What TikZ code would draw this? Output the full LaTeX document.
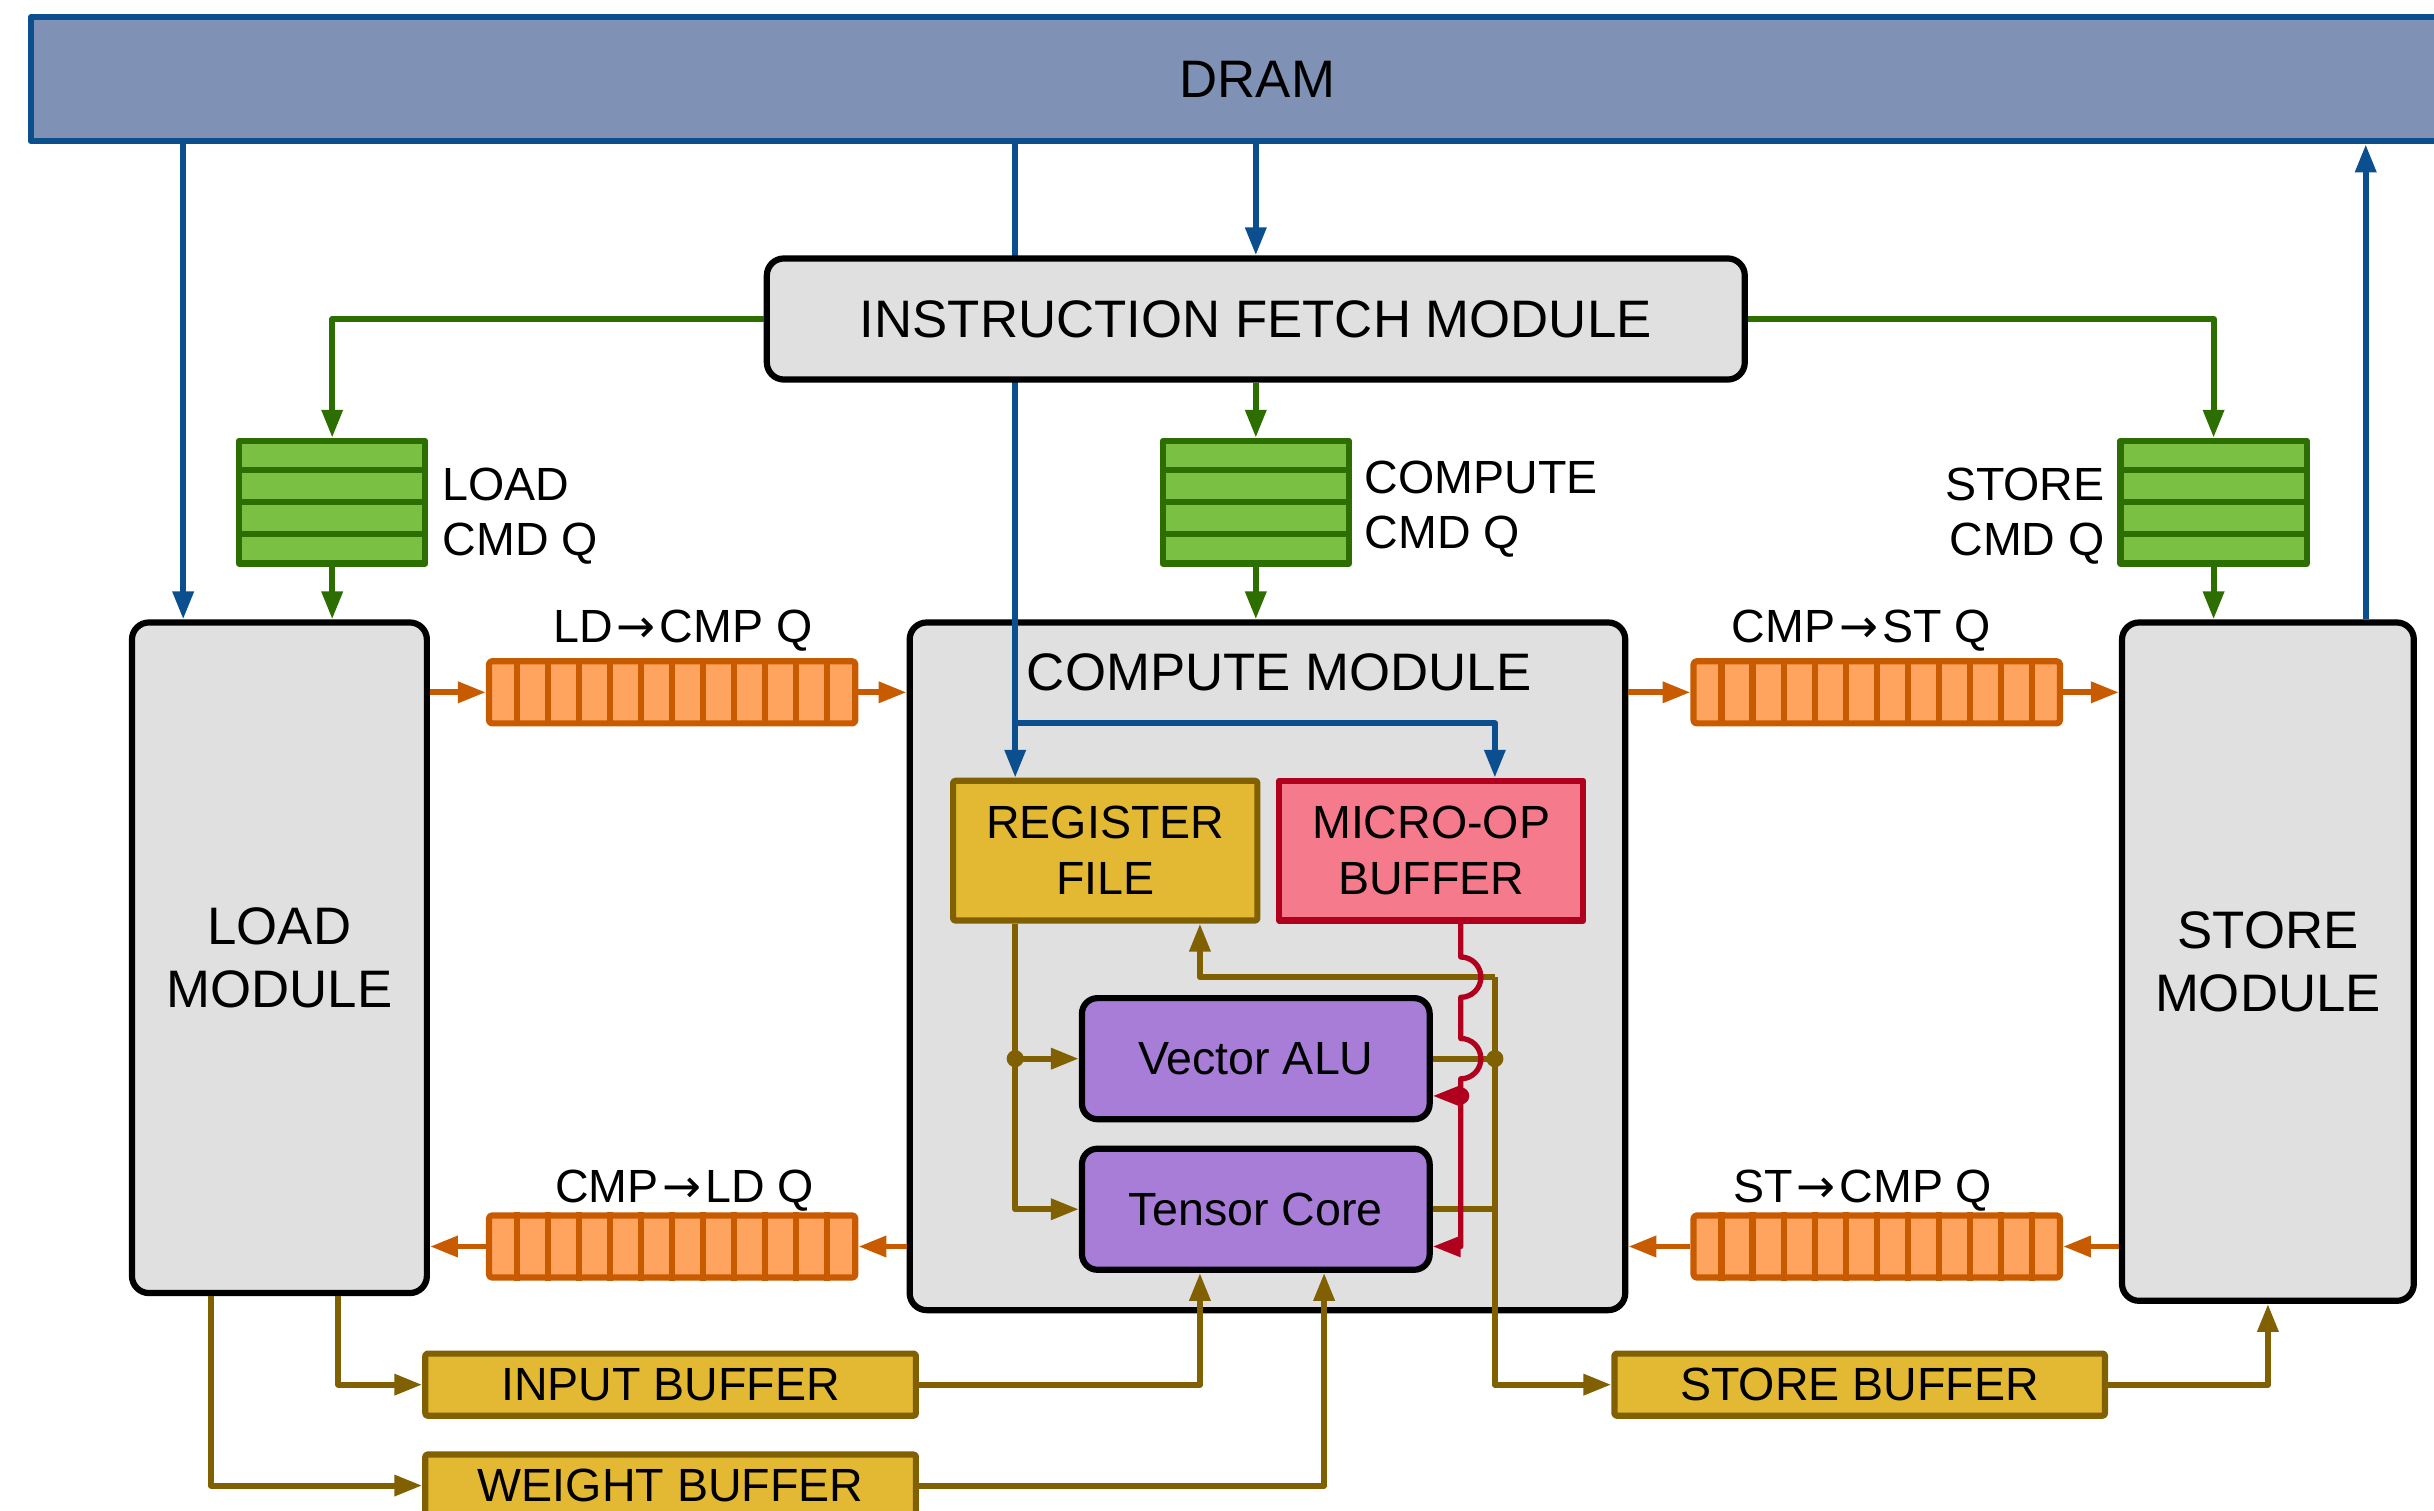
\documentclass[tikz,border=0pt]{standalone}
\usepackage{fontspec}
\setmainfont{Liberation Sans}
\newfontfamily\arrowfont{DejaVu Sans}
\newcommand{\qarrow}{\kern2.5pt{\arrowfont →}\kern2.5pt}
\usetikzlibrary{arrows.meta,calc}

\definecolor{dramfill}{HTML}{7F91B4}
\definecolor{dramblue}{HTML}{0B4F8E}
\definecolor{qgreen}{HTML}{7AC143}
\definecolor{dkgreen}{HTML}{2D6E00}
\definecolor{mustard}{HTML}{E3B832}
\definecolor{olivebr}{HTML}{806000}
\definecolor{qorange}{HTML}{FFA45E}
\definecolor{dkorange}{HTML}{C85A00}
\definecolor{modgrey}{HTML}{E0E0E0}
\definecolor{alupurple}{HTML}{A87DD8}
\definecolor{uoppink}{HTML}{F57A8B}
\definecolor{uopred}{HTML}{B0001E}

\begin{document}
\begin{tikzpicture}[x=1pt,y=-1pt,line join=round,
  >={Triangle[length=18pt,width=13pt]},
  bigtext/.style={font=\fontsize{34}{41}\selectfont},
  smalltext/.style={font=\fontsize{30}{36}\selectfont},
  box/.style={draw, line width=4pt, inner sep=0pt, align=center},
  module/.style={box, fill=modgrey, rounded corners=11pt, bigtext},
  core/.style={box, fill=alupurple, rounded corners=10pt, smalltext,
    minimum width=224pt, minimum height=78pt},
  sram/.style={box, draw=olivebr, fill=mustard, smalltext, rounded corners=1.5pt},
  cmdq/.style={draw=dkgreen, fill=qgreen, line width=4pt,
    minimum width=120pt, minimum height=79pt, inner sep=0pt},
  fifo/.style={draw=dkorange, fill=qorange, line width=4pt,
    minimum width=236pt, minimum height=40pt, inner sep=0pt, rounded corners=2pt},
  tag/.style={inner sep=0pt, smalltext},
  memlink/.style={draw=dramblue, line width=3.8pt},
  cmdlink/.style={draw=dkgreen, line width=3.8pt},
  qlink/.style={draw=dkorange, line width=3.8pt},
  datalink/.style={draw=olivebr, line width=3.8pt},
  uoplink/.style={draw=uopred, line width=3.4pt},
]
\useasboundingbox (0,0) rectangle (1568,973);
\clip (0,0) rectangle (1568,973);

% memory
\node[box, draw=dramblue, fill=dramfill, minimum width=1580pt, minimum height=80pt,
  bigtext] (dram) at (810,51) {DRAM};

% the three modules
\node[module, minimum width=190pt, minimum height=432pt] (load) at (180,617) {LOAD\\MODULE};
\node[module, minimum width=461pt, minimum height=443pt] (compute) at (816.5,622.5) {};
\node[module, minimum width=188pt, minimum height=437pt] (store) at (1461,619.5) {STORE\\MODULE};
\node[tag, bigtext] (cmtitle) at (824,433) {COMPUTE MODULE};

% compute internals
\node[sram, minimum width=196pt, minimum height=90pt] (rf) at (712,548) {REGISTER\\FILE};
\node[box, draw=uopred, fill=uoppink, smalltext, minimum width=196pt,
  minimum height=90pt] (uop) at (922,548) {MICRO-OP\\BUFFER};
\node[core] (valu) at (809,682) {Vector ALU};
\node[core] (tc) at (809,779) {Tensor Core};

% DRAM traffic
\coordinate (bsplit) at (654,466);
\draw[memlink,->] (dram.south -| 118,0) -- (load.north -| 118,0);
\draw[memlink,->] (dram.south -| bsplit) -- (rf.north -| bsplit);
\draw[memlink,->] (bsplit) -| (uop.north -| 963,0);
\draw[memlink,->] (store.north -| 1524,0) -- (dram.south -| 1524,0);

% instruction fetch
\node[module, minimum width=630pt, minimum height=78pt] (ifm) at (809,205.5)
  {INSTRUCTION FETCH MODULE};
\draw[memlink,->] (dram.south -| ifm.north) -- (ifm.north);

% command queues
\node[cmdq] (ldq) at (214,323.5) {};
\node[cmdq] (cpq) at (809,323.5) {};
\node[cmdq] (stq) at (1426,323.5) {};
\foreach \q in {ldq,cpq,stq}
  \foreach \i in {1,2,3}
    \draw[dkgreen, line width=4pt] ($(\q.north west)!\i/4!(\q.south west)$)
      -- ($(\q.north east)!\i/4!(\q.south east)$);
\node[tag, align=left, anchor=west] (ldqlbl) at (285,332.5) {LOAD\\CMD Q};
\node[tag, align=left, anchor=west] (cpqlbl) at (879,328) {COMPUTE\\CMD Q};
\node[tag, align=right, anchor=east] (stqlbl) at (1356,332.5) {STORE\\CMD Q};

\draw[cmdlink,->] (ifm.west) -| (ldq.north);
\draw[cmdlink,->] (ifm.south) -- (cpq.north);
\draw[cmdlink,->] (ifm.east) -| (stq.north);
\draw[cmdlink,->] (ldq.south) -- (ldq.south |- load.north);
\draw[cmdlink,->] (cpq.south) -- (cpq.south |- compute.north);
\draw[cmdlink,->] (stq.south) -- (stq.south |- store.north);

% dependence queues
\node[fifo] (ldcmp) at (433,446) {};
\node[fifo] (cmpld) at (433,803) {};
\node[fifo] (cmpst) at (1209,446) {};
\node[fifo] (stcmp) at (1209,803) {};
\foreach \q in {ldcmp,cmpld,cmpst,stcmp}
  \foreach \i in {1,...,11}
    \draw[dkorange, line width=4pt] ($(\q.north west)!\i/12!(\q.north east)$)
      -- ($(\q.south west)!\i/12!(\q.south east)$);
\node[tag] (ldcmplbl) at (440,406) {LD\qarrow CMP Q};
\node[tag] (cmpstlbl) at (1199,406) {CMP\qarrow ST Q};
\node[tag] (cmpldlbl) at (441,767) {CMP\qarrow LD Q};
\node[tag] (stcmplbl) at (1200,767) {ST\qarrow CMP Q};

\draw[qlink,->] (ldcmp.west -| load.east) -- (ldcmp.west);
\draw[qlink,->] (ldcmp.east) -- (ldcmp.east -| compute.west);
\draw[qlink,->] (cmpst.west -| compute.east) -- (cmpst.west);
\draw[qlink,->] (cmpst.east) -- (cmpst.east -| store.west);
\draw[qlink,->] (cmpld.east -| compute.west) -- (cmpld.east);
\draw[qlink,->] (cmpld.west) -- (cmpld.west -| load.east);
\draw[qlink,->] (stcmp.east -| store.west) -- (stcmp.east);
\draw[qlink,->] (stcmp.west) -- (stcmp.west -| compute.east);

% on-chip buffers
\node[sram, minimum width=316pt, minimum height=40pt] (inbuf) at (432,892) {INPUT BUFFER};
\node[sram, minimum width=316pt, minimum height=40pt] (wbuf) at (432,957) {WEIGHT BUFFER};
\node[sram, minimum width=316pt, minimum height=40pt] (stbuf) at (1198,892) {STORE BUFFER};

\draw[datalink,->] (load.south -| 218,0) |- (inbuf.west);
\draw[datalink,->] (load.south -| 136,0) |- (wbuf.west);
\draw[datalink,->] (inbuf.east) -| (tc.south -| 773,0);
\draw[datalink,->] (wbuf.east) -| (tc.south -| 853,0);
\draw[datalink,->] (stbuf.east) -| (store.south);

% register file datapath
\coordinate (vsplit) at (654,682);
\coordinate (aluout) at (963,682);
\coordinate (wback) at (963,629.5);
\draw[datalink,->] (rf.south -| vsplit) |- (tc.west);
\draw[datalink,->] (vsplit) -- (valu.west);
\draw[datalink] (valu.east) -- (aluout);
\draw[datalink] (tc.east) -- (tc.east -| aluout);
\draw[datalink,->] (wback) -| (rf.south -| 773,0);
\draw[datalink,->] (wback) |- (stbuf.west);
\fill[olivebr] (vsplit) circle (5.5pt);
\fill[olivebr] (aluout) circle (5.5pt);

% micro-op dispatch, hopping over the data lines
\coordinate (uopdrop) at (941,706);
\draw[uoplink,->] (uop.south -| 941,0) -- (941,616.5)
  arc[start angle=-90, end angle=90, radius=13] -- (941,669)
  arc[start angle=-90, end angle=90, radius=13] -- (941,803)
  -- (tc.east |- 0,803);
\draw[uoplink,->] (uopdrop) -- (valu.east |- uopdrop);
\fill[uopred] (uopdrop) circle (5.5pt);
\end{tikzpicture}
\end{document}
